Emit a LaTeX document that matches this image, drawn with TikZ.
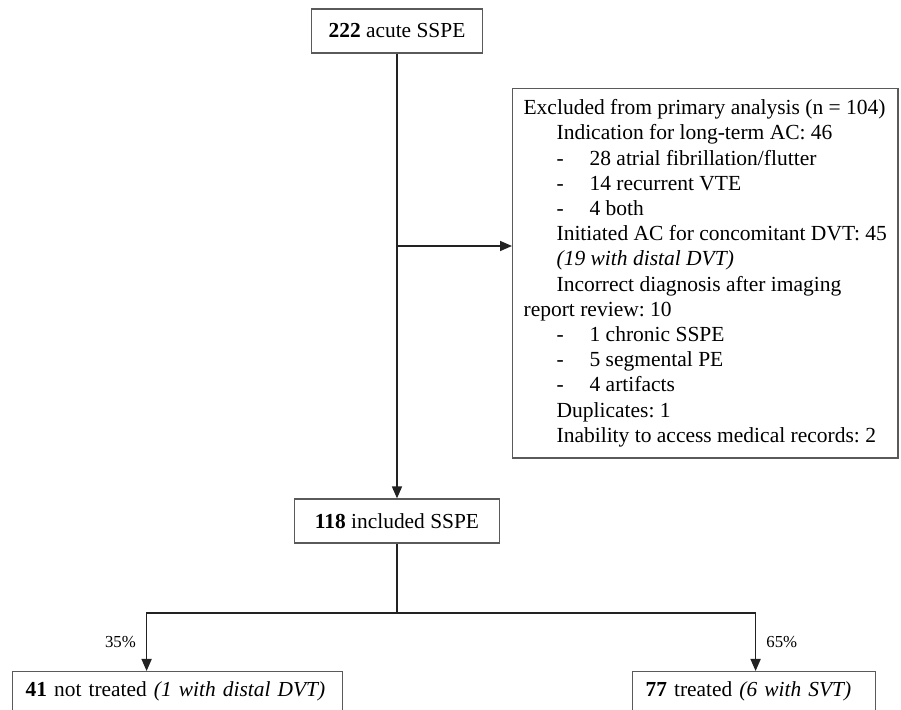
\documentclass[tikz,border=0pt]{standalone}
\usepackage{fontspec}
\setmainfont{Liberation Serif}
\usetikzlibrary{arrows.meta,positioning}
\definecolor{boxgray}{HTML}{5A5A5A}
\definecolor{linegray}{HTML}{222222}
\newcommand{\flowfont}{\fontsize{10.7}{12.6}\selectfont\frenchspacing}
\newcommand{\exclfont}{\fontsize{10.75}{12.6}\selectfont\frenchspacing}
\newcommand{\pctfont}{\fontsize{8.4}{10}\selectfont}
\newcommand{\ind}{\hspace*{16.5pt}}
\newcommand{\exitem}[1]{\ind\makebox[16.5pt][l]{-}#1}
\tikzset{
  flowbox/.style={draw=boxgray, line width=0.6pt, fill=white, align=center,
                  font=\flowfont, inner sep=0pt},
  exclbox/.style={flowbox, align=left, anchor=north west, inner xsep=5.5pt,
                  inner ysep=5.5pt, font=\exclfont},
  leftbox/.style={flowbox, align=left, anchor=north west, inner xsep=6.5pt,
                  minimum height=20pt},
  flow/.style={draw=linegray, line width=0.8pt},
  flowarr/.style={flow, -{Triangle[length=6pt,width=5pt]}},
  pct/.style={font=\pctfont, inner xsep=5pt},
}

\begin{document}
\begin{tikzpicture}[x=0.5pt, y=-0.5pt]
    \useasboundingbox[fill=white] (0,0) rectangle (901,710);
    \clip (0,0) rectangle (901,710);
    % main column
    \node[flowbox, minimum width=85.5pt, minimum height=22pt] (acute) at (397,31)
      {\textbf{222} acute SSPE};
    \node[flowbox, minimum width=102.5pt, minimum height=22pt] (incl) at (397,521)
      {\textbf{118} included SSPE};
    % exclusions
    \node[exclbox] (excl) at (512,88) {%
      Excluded from primary analysis (n = 104)\\
      \ind Indication for long-term AC: 46\\
      \exitem{28 atrial fibrillation/flutter}\\
      \exitem{14 recurrent VTE}\\
      \exitem{4 both}\\
      \ind Initiated AC for concomitant DVT: 45\\
      \ind\textit{(19 with distal DVT)}\\
      \ind Incorrect diagnosis after imaging\\
      report review: 10\\
      \exitem{1 chronic SSPE}\\
      \exitem{5 segmental PE}\\
      \exitem{4 artifacts}\\
      \ind Duplicates: 1\\
      \ind Inability to access medical records: 2};
    % treatment groups
    \node[leftbox, text width=152pt] (untr) at (12,671)
      {\textbf{41} not treated \textit{(1 with distal DVT)}};
    \node[leftbox, text width=108.5pt] (trt) at (632,671)
      {\textbf{77} treated \textit{(6 with SVT)}};
    \coordinate (split) at (397,246);
    \coordinate (fork) at (397,613);
    \draw[flowarr] (acute.south) -- (incl.north);
    \draw[flowarr] (split) -- (split -| excl.west);
    \draw[flow] (incl.south) -- (fork);
    \draw[flowarr] (fork) -| node[pct, pos=0.75, left]{35\%} ([xshift=-15.5pt]untr.north);
    \draw[flowarr] (fork) -| node[pct, pos=0.75, right]{65\%} ([xshift=0.75pt]trt.north);
\end{tikzpicture}
\end{document}
